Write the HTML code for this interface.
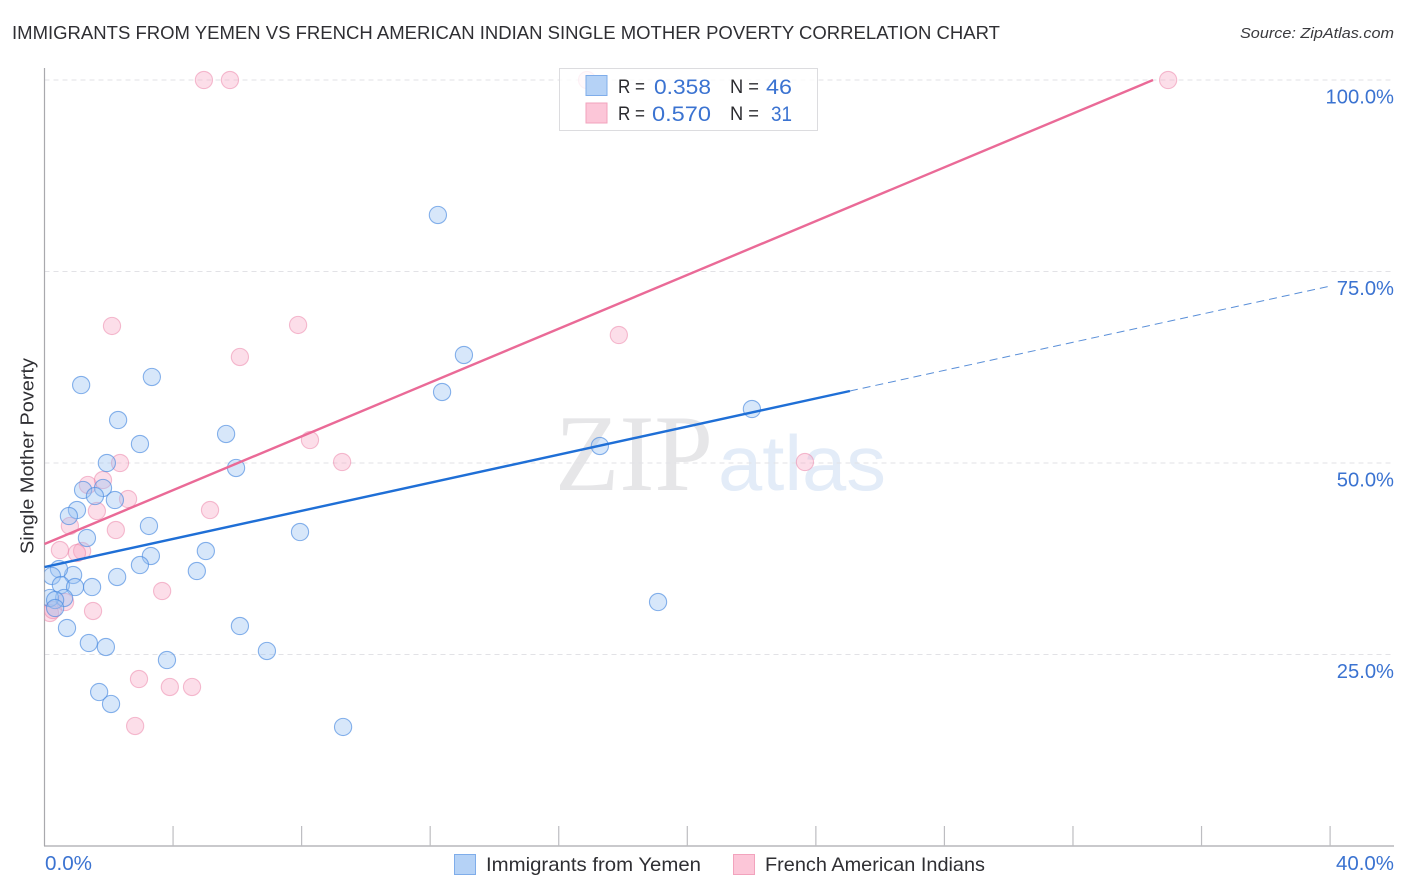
<!DOCTYPE html>
<html lang="en">
<head>
<meta charset="utf-8">
<title>Immigrants from Yemen vs French American Indian Single Mother Poverty Correlation Chart</title>
<style>
html,body{margin:0;padding:0;background:#fff;width:1406px;height:892px;overflow:hidden}
svg{display:block;font-family:"Liberation Sans",sans-serif}
</style>
</head>
<body>
<svg id="chart" xmlns="http://www.w3.org/2000/svg" width="1406" height="892" viewBox="0 0 1406 892">
  <defs><clipPath id="plot-clip"><rect x="44.5" y="60" width="1350" height="786"/></clipPath></defs>
  <rect x="0" y="0" width="1406" height="892" fill="#fff"/>
  <text x="12" y="39" font-size="18.6" fill="#2f2f33" textLength="988" lengthAdjust="spacingAndGlyphs">IMMIGRANTS FROM YEMEN VS FRENCH AMERICAN INDIAN SINGLE MOTHER POVERTY CORRELATION CHART</text>
  <text x="1394" y="38" font-size="15" font-style="italic" fill="#3a3a3e" text-anchor="end" textLength="154" lengthAdjust="spacingAndGlyphs">Source: ZipAtlas.com</text>
  <text transform="translate(33.5,456) rotate(-90)" font-size="18.4" fill="#2f2f33" text-anchor="middle" textLength="196" lengthAdjust="spacingAndGlyphs">Single Mother Poverty</text>
  <g>
    <text x="555" y="490" font-family="'Liberation Serif',serif" font-size="109" fill="#e6e6e8" textLength="158" lengthAdjust="spacingAndGlyphs">ZIP</text>
    <text x="718" y="490" font-size="78" fill="#e3ecf8" textLength="168" lengthAdjust="spacingAndGlyphs">atlas</text>
  </g>
  <g id="grid"></g>
  <g id="axes"></g>
  <g id="points" clip-path="url(#plot-clip)"></g>
  <g id="trends"></g>
  <g>
    <rect x="559.5" y="68.5" width="258" height="62" fill="#fff" fill-opacity="0.8" stroke="#dcdcdf" stroke-width="1"/>
    <rect x="586" y="75.5" width="21" height="20" fill="#b5d2f6" stroke="#7fadea" stroke-width="1"/>
    <rect x="586" y="103" width="21" height="20" fill="#fcc6d8" stroke="#f2a3bd" stroke-width="1"/>
    <text x="618" y="93" font-size="19" fill="#2b2b2f" textLength="27" lengthAdjust="spacingAndGlyphs">R =</text>
    <text x="654" y="94" font-size="21.5" fill="#3b73d1" textLength="57" lengthAdjust="spacingAndGlyphs">0.358</text>
    <text x="730" y="93" font-size="19" fill="#2b2b2f" textLength="29" lengthAdjust="spacingAndGlyphs">N =</text>
    <text x="766" y="94" font-size="21.5" fill="#3b73d1" textLength="26" lengthAdjust="spacingAndGlyphs">46</text>
    <text x="618" y="120" font-size="19" fill="#2b2b2f" textLength="27" lengthAdjust="spacingAndGlyphs">R =</text>
    <text x="652" y="121" font-size="21.5" fill="#3b73d1" textLength="59" lengthAdjust="spacingAndGlyphs">0.570</text>
    <text x="730" y="120" font-size="19" fill="#2b2b2f" textLength="29" lengthAdjust="spacingAndGlyphs">N =</text>
    <text x="771" y="121" font-size="21.5" fill="#3b73d1" textLength="21" lengthAdjust="spacingAndGlyphs">31</text>
  </g>
  <g>
    <rect x="454.5" y="854.5" width="21" height="20" fill="#b5d2f6" stroke="#7fadea" stroke-width="1"/>
    <text x="486" y="871" font-size="19.5" fill="#2f2f33" textLength="215" lengthAdjust="spacingAndGlyphs">Immigrants from Yemen</text>
    <rect x="733.5" y="854.5" width="21" height="20" fill="#fcc6d8" stroke="#f2a3bd" stroke-width="1"/>
    <text x="765" y="871" font-size="19.5" fill="#2f2f33" textLength="220" lengthAdjust="spacingAndGlyphs">French American Indians</text>
  </g>
</svg>
<script>
var yemenX = [12.24,13.05,12.37,3.34,1.14,2.29,2.97,5.65,1.94,5.96,1.20,1.82,1.57,2.19,1.01,0.76,3.25,1.32,7.95,5.02,3.31,2.97,4.74,2.26,0.89,0.45,0.23,0.51,0.95,1.48,0.61,0.17,0.33,0.33,0.70,1.38,1.91,6.08,6.92,3.81,1.70,2.07,9.29,17.28,19.09,22.01];
var yemenY = [82.38,64.10,59.27,61.23,60.18,55.61,52.48,53.79,50.00,49.35,46.48,46.74,45.69,45.17,43.86,43.08,41.78,40.21,40.99,38.51,37.86,36.68,35.90,35.12,35.38,36.16,35.25,34.07,33.81,33.81,32.38,32.38,32.11,31.07,28.46,26.50,25.98,28.72,25.46,24.28,20.10,18.54,15.54,52.22,31.85,57.05];
var frenchX = [4.96,5.77,16.88,34.96,7.89,2.10,17.87,6.08,8.26,9.26,23.66,2.35,1.35,1.82,2.60,1.63,5.15,0.79,2.22,0.48,1.17,1.01,0.64,1.51,3.66,2.94,3.90,4.59,2.82,0.17,0.26];
var frenchY = [100,100,100,100,68.02,67.89,66.71,63.84,53.00,50.13,50.13,50.00,47.13,47.78,45.30,43.73,43.86,41.78,41.25,38.64,38.51,38.25,31.85,30.68,33.29,21.80,20.76,20.76,15.67,30.42,30.81];
var yemenTrendX = [0,25.06,40.06];
var yemenTrendY = [36.42,59.40,73.15];
var frenchTrendX = [0,34.49];
var frenchTrendY = [39.43,100];
var yTicks = [100,75,50,25];
var yTickLabels = ["100.0%","75.0%","50.0%","25.0%"];
var xTicks = [0,4,8,12,16,20,24,28,32,36,40];
var xEndLabels = ["0.0%","40.0%"];

var NS = "http://www.w3.org/2000/svg";
function xs(v){ return 44.5 + v * 32.14; }
function ys(v){ return 846 - v * 7.66; }
function mk(parent, tag, attrs){
  var el = document.createElementNS(NS, tag);
  for (var k in attrs) el.setAttribute(k, attrs[k]);
  parent.appendChild(el);
  return el;
}
var grid = document.getElementById('grid');
var axes = document.getElementById('axes');
var points = document.getElementById('points');
var trends = document.getElementById('trends');

yTicks.forEach(function(t, i){
  var line = mk(grid, 'line', {x1:44.5, x2:1394, y1:ys(t), y2:ys(t), stroke:'#e2e2e6', 'stroke-width':1, 'stroke-dasharray':'5 4'});
  
  
  var label = mk(axes, 'text', {x:1394, y:ys(t) + 23.5, 'font-size':20.2, fill:'#3b73d1', 'text-anchor':'end'});
  label.textContent = yTickLabels[i];
  
  
});

var yAxis = mk(axes, 'line', {x1:44.5, x2:44.5, y1:68, y2:846, stroke:'#a9a9ad', 'stroke-width':1.2});


var xAxis = mk(axes, 'line', {x1:44, x2:1394, y1:846, y2:846, stroke:'#a9a9ad', 'stroke-width':1.2});



xTicks.forEach(function(t){
  if (t === 0) return;
  var tick = mk(axes, 'line', {x1:xs(t), x2:xs(t), y1:826, y2:846, stroke:'#bdbdc1', 'stroke-width':1.2});
  
  
});

var x0Label = mk(axes, 'text', {x:45, y:870, 'font-size':20.2, fill:'#3b73d1', textLength:47, lengthAdjust:'spacingAndGlyphs'});
x0Label.textContent = xEndLabels[0];


var x1Label = mk(axes, 'text', {x:1336, y:870, 'font-size':20.2, fill:'#3b73d1', textLength:58, lengthAdjust:'spacingAndGlyphs'});
x1Label.textContent = xEndLabels[1];



frenchX.forEach(function(v, i){
  var c = mk(points, 'circle', {cx:xs(v), cy:ys(frenchY[i]), r:8.6, fill:'#f7a8c4', 'fill-opacity':0.38, stroke:'#ec7fa5', 'stroke-opacity':0.5, 'stroke-width':1.1});
  
  
});
yemenX.forEach(function(v, i){
  var c = mk(points, 'circle', {cx:xs(v), cy:ys(yemenY[i]), r:8.6, fill:'#9cc3f2', 'fill-opacity':0.4, stroke:'#4a8ae0', 'stroke-opacity':0.65, 'stroke-width':1.1});
  
  
});

var french = mk(trends, 'line', {x1:xs(frenchTrendX[0]), y1:ys(frenchTrendY[0]), x2:xs(frenchTrendX[1]), y2:ys(frenchTrendY[1]), stroke:'#ea6a97', 'stroke-width':2.4});


var yemen = mk(trends, 'line', {x1:xs(yemenTrendX[0]), y1:ys(yemenTrendY[0]), x2:xs(yemenTrendX[1]), y2:ys(yemenTrendY[1]), stroke:'#1f6fd6', 'stroke-width':2.4});


var ext = mk(trends, 'line', {x1:xs(yemenTrendX[1]), y1:ys(yemenTrendY[1]), x2:xs(yemenTrendX[2]), y2:ys(yemenTrendY[2]), stroke:'#5a8fd8', 'stroke-width':1, 'stroke-dasharray':'8 5'});


</script>
</body>
</html>
